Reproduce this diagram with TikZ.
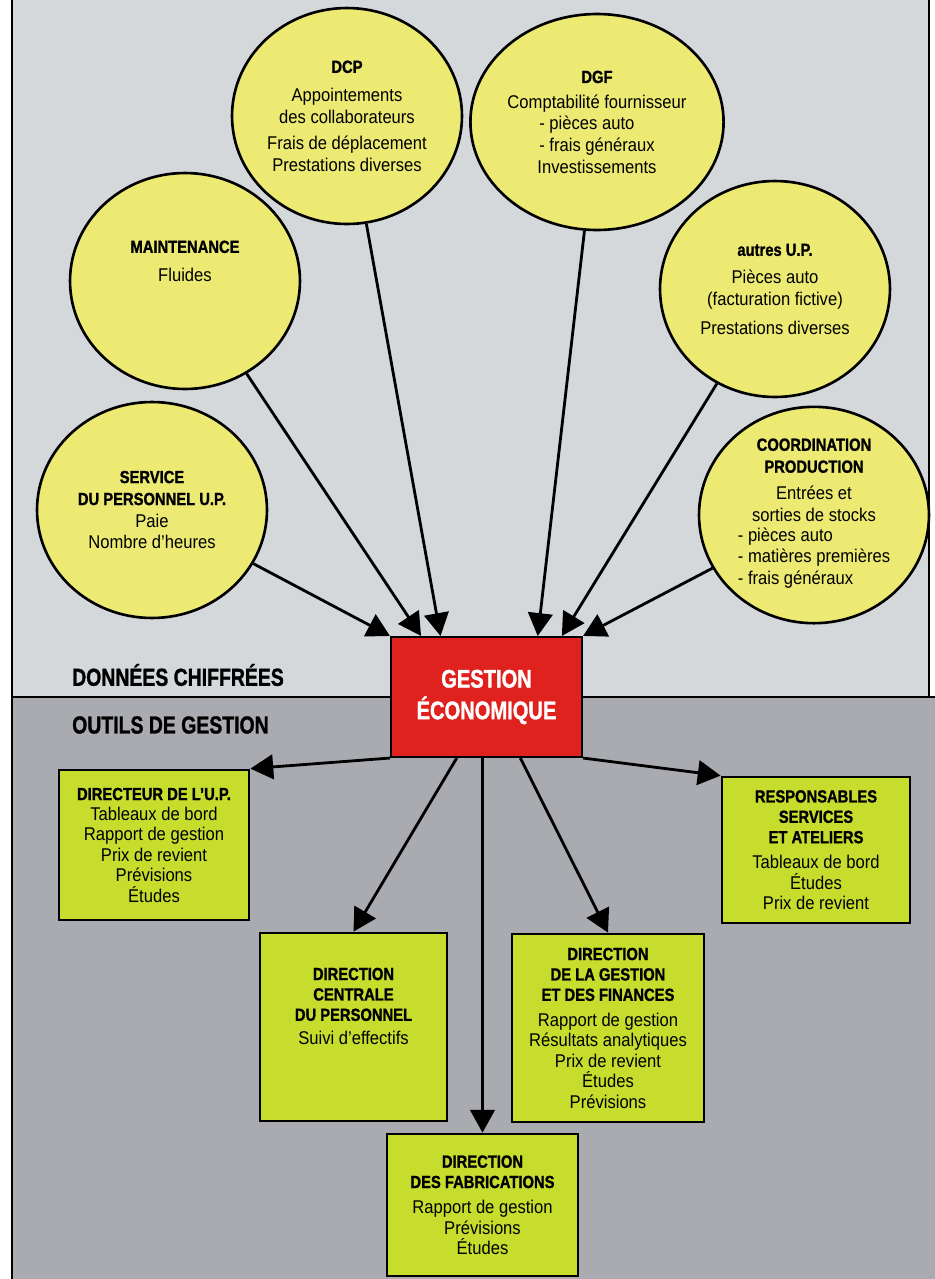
\documentclass[tikz,border=0pt]{standalone}
\usepackage{fontspec}
\setmainfont{Liberation Sans}[FakeStretch=0.9, BoldFeatures={FakeStretch=0.84, FakeBold=1.2}]
\newfontfamily\bandfont{Liberation Sans Bold}[FakeStretch=0.79, FakeBold=1.2]
\usetikzlibrary{shapes.geometric, arrows.meta}

\definecolor{upperbg}{HTML}{D5D8DA}
\definecolor{lowerbg}{HTML}{A9ABB0}
\definecolor{bubble}{HTML}{ECEA72}
\definecolor{lime}{HTML}{C6DD2E}
\definecolor{gestred}{HTML}{DF221E}

\newcommand\ttl{\bfseries\fontsize{10}{12}\selectfont}
\newcommand\bdy{\mdseries\fontsize{10.5}{12.5}\selectfont}

\tikzset{
  source/.style={ellipse, draw, line width=1.5pt, fill=bubble, inner sep=0pt,
    minimum width=4.6cm, minimum height=4.32cm, align=center,
    font=\fontsize{10.5}{12.5}\selectfont},
  tool/.style={rectangle, draw, line width=1.6pt, fill=lime, inner sep=0pt,
    align=center, font=\fontsize{10.5}{11.6}\selectfont},
  band/.style={anchor=west, font=\bandfont\fontsize{14}{16}\selectfont},
  arr/.style={line width=1.6pt, -{Triangle[length=13pt,width=14pt]}}
}

\begin{document}
\begin{tikzpicture}[x=0.02cm, y=-0.02cm]
\useasboundingbox ( 0, 0 ) rectangle ( 935, 1279 );

% Background, two bands
\fill[upperbg] ( 12, 0 ) rectangle ( 929, 697 );
\fill[lowerbg] ( 12, 697 ) rectangle ( 935, 1279 );
\draw[line width=1pt] ( 12, 0 ) -- ( 12, 1279 );
\draw[line width=1pt] ( 929, 0 ) -- ( 929, 697 );
\draw[line width=1pt] ( 12, 697 ) -- ( 935, 697 );

\node[band] (donnees) at ( 66, 675 ) {DONNÉES CHIFFRÉES};
\node[band] (outils) at ( 66, 725 ) {OUTILS DE GESTION};

% Sources
\node[source] (dcp) at ( 347, 116 ) {\ttl DCP\\[4pt]
  \bdy Appointements\\des collaborateurs\\[2pt]Frais de déplacement\\Prestations diverses};
\node[source] (dgf) at ( 597, 122 ) {\ttl DGF\\[2pt]
  \bdy Comptabilité fournisseur\\
  \begin{tabular}{@{}l@{}}- pièces auto\\- frais généraux\end{tabular}\\
  Investissements};
\node[source] (maint) at ( 185, 281 ) {\ttl MAINTENANCE\\[4pt]
  \bdy Fluides\\[10pt]\mbox{}};
\node[source] (autres) at ( 775, 289 ) {\ttl autres U.P.\\[3pt]
  \bdy Pièces auto\\(facturation fictive)\\[4pt]Prestations diverses};
\node[source] (service) at ( 152, 510 ) {\ttl SERVICE\\\ttl DU PERSONNEL U.P.\\
  \bdy Paie\\Nombre d'heures};
\node[source] (coord) at ( 814, 515 ) {\ttl COORDINATION\\\ttl PRODUCTION\\[3pt]
  \bdy Entrées et\\sorties de stocks\\[1pt]
  \begin{tabular}{@{}l@{}}- pièces auto\\- matières premières\\- frais généraux\end{tabular}};

% Gestion economique
\node[rectangle, draw, line width=1.2pt, fill=gestred, minimum width=3.82cm, minimum height=2.4cm,
  align=center, text=white, font=\bandfont\fontsize{14.5}{18}\selectfont]
  (gestion) at ( 486.5, 697 ) {GESTION\\ÉCONOMIQUE};

% Outils
\node[tool, minimum width=3.8cm, minimum height=3.0cm] (directeur) at ( 154, 845 )
  {\ttl DIRECTEUR DE L'U.P.\\\bdy Tableaux de bord\\Rapport de gestion\\Prix de revient\\Prévisions\\Études};
\node[tool, minimum width=3.74cm, minimum height=3.76cm] (centrale) at ( 353.5, 1027 )
  {\ttl DIRECTION\\\ttl CENTRALE\\\ttl DU PERSONNEL\\[2pt]\bdy Suivi d'effectifs\\[12pt]\mbox{}};
\node[tool, minimum width=3.76cm, minimum height=2.92cm] (responsables) at ( 816, 850 )
  {\ttl RESPONSABLES\\\ttl SERVICES\\\ttl ET ATELIERS\\[3pt]\bdy Tableaux de bord\\Études\\Prix de revient};
\node[tool, minimum width=3.84cm, minimum height=3.76cm] (finances) at ( 608, 1028 )
  {\ttl DIRECTION\\\ttl DE LA GESTION\\\ttl ET DES FINANCES\\[3pt]\bdy Rapport de gestion\\Résultats analytiques\\Prix de revient\\Études\\Prévisions};
\node[tool, minimum width=3.82cm, minimum height=2.84cm] (fabrications) at ( 482.5, 1205 )
  {\ttl DIRECTION\\\ttl DES FABRICATIONS\\[3pt]\bdy Rapport de gestion\\Prévisions\\Études};

% Donnees vers gestion
\draw[arr] (service) -- (gestion.north west);
\draw[arr] (maint) -- (gestion.137);
\draw[arr] (dcp) -- (gestion.127);
\draw[arr] (dgf) -- (gestion.50);
\draw[arr] (autres) -- (gestion.39);
\draw[arr] (coord) -- (gestion.north east);

% Gestion vers outils
\draw[arr] (gestion.south west) -- (directeur.north east);
\draw[arr] (gestion.244) -- (centrale.north);
\draw[arr] (fabrications.north |- gestion.south) -- (fabrications.north);
\draw[arr] (gestion.299) -- (finances.north);
\draw[arr] (gestion.south east) -- (responsables.north west);

\end{tikzpicture}
\end{document}
